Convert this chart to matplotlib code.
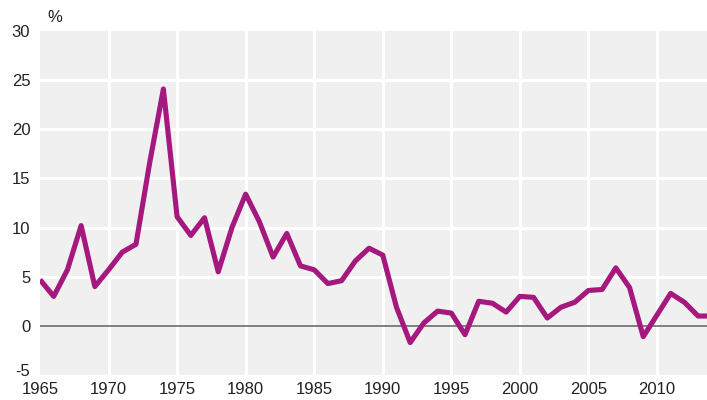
import matplotlib
matplotlib.use("Agg")
import matplotlib.pyplot as plt
import matplotlib.transforms as mtransforms

years = list(range(1965, 2015))
values = [4.7, 3.0, 5.7, 10.2, 4.0, 5.7, 7.5, 8.3, 16.6, 24.1,
          11.1, 9.2, 11.0, 5.5, 10.0, 13.4, 10.6, 7.0, 9.4, 6.1,
          5.7, 4.3, 4.6, 6.6, 7.9, 7.2, 1.9, -1.7, 0.3, 1.5,
          1.3, -0.9, 2.5, 2.3, 1.4, 3.0, 2.9, 0.8, 1.9, 2.4,
          3.6, 3.7, 5.9, 3.9, -1.1, 1.1, 3.3, 2.4, 1.0, 1.0]
xticks = [1965, 1970, 1975, 1980, 1985, 1990, 1995, 2000, 2005, 2010]
yticks = [-5, 0, 5, 10, 15, 20, 25, 30]
unit_label = "%"

plt.rcParams['font.family'] = ['Liberation Sans', 'DejaVu Sans']

fig = plt.figure(figsize=(7.07, 4.0), dpi=100)
ax = fig.add_axes([40/707, 25/400, 667/707, 344/400])
ax.set_facecolor('#f0f0f0')
ax.set_xlim(1965, 2013.65)
ax.set_ylim(-5, 30)

for x in xticks[1:]:
    ax.axvline(x, color='white', lw=2.2, zorder=1)
for y in yticks[2:-1]:
    ax.axhline(y, color='white', lw=2.2, zorder=1)
ax.axhline(0, color='#777777', lw=1.3, zorder=2)

ax.plot(years, values, color='#a5197f', lw=3.7, zorder=3,
        solid_joinstyle='round', solid_capstyle='butt')

ax.set_xticks(xticks)
ax.set_yticks(yticks)
ax.set_yticklabels([str(v) for v in yticks])
ax.tick_params(length=0, labelsize=12, colors='#222222')
ax.tick_params(axis='y', pad=7)
ax.tick_params(axis='x', pad=5)
for s in ax.spines.values():
    s.set_visible(False)

# lift the lowest y label slightly, as in the reference
lbl = ax.get_yticklabels()[0]
lbl.set_transform(lbl.get_transform() +
                  mtransforms.ScaledTranslation(0, 5/100, fig.dpi_scale_trans))

fig.text(47/707, 1 - 18/400, unit_label, fontsize=12, color='#222222',
         ha='left', va='center')

fig.savefig('out.png', dpi=100)
